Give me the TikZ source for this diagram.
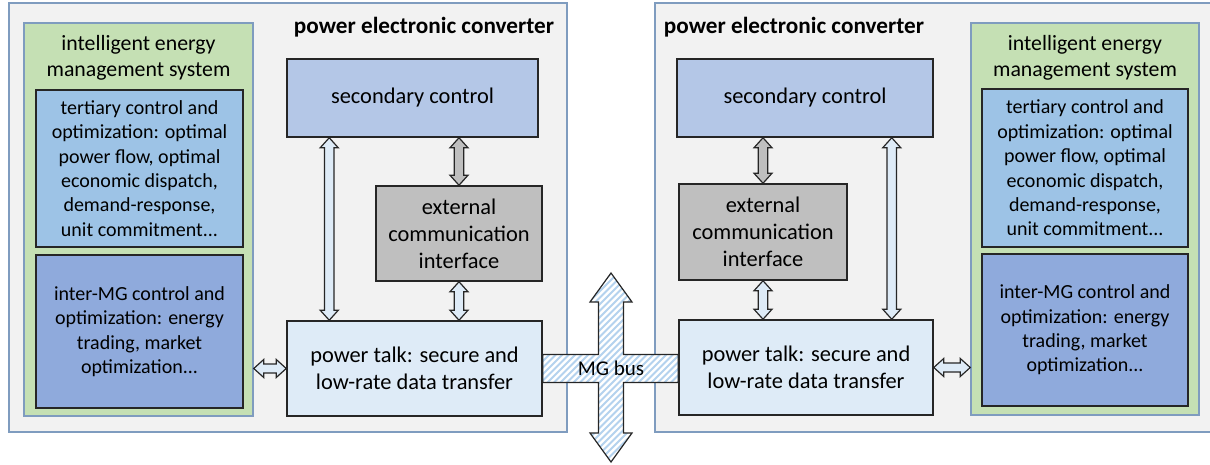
\documentclass[tikz,border=0pt]{standalone}
\usepackage{fontspec}
\setmainfont{Carlito}
\usetikzlibrary{calc}

\definecolor{panelfill}{HTML}{F2F2F2}
\definecolor{panelline}{HTML}{7F9CBF}
\definecolor{emsgreen}{HTML}{C5E0B4}
\definecolor{terfill}{HTML}{9DC3E6}
\definecolor{intfill}{HTML}{8FAADC}
\definecolor{secfill}{HTML}{B4C7E7}
\definecolor{extfill}{HTML}{BFBFBF}
\definecolor{ptfill}{HTML}{DEEBF7}
\definecolor{stripeblue}{HTML}{B4D2EE}

\tikzset{
  every node/.style={font=\fontsize{10}{12.2}\selectfont},
  sized/.style 2 args={minimum width=#1*0.5pt, minimum height=#2*0.5pt},
  panel/.style={draw=panelline, fill=panelfill, line width=0.75pt, inner sep=0pt},
  emsbox/.style={draw=panelline, fill=emsgreen, line width=0.75pt, inner sep=0pt},
  block/.style={draw=black!85, line width=0.75pt, align=center, inner sep=0pt},
  bigtext/.style={font=\fontsize{11.2}{13.5}\selectfont},
  emstext/.style={align=center, font=\fontsize{10.9}{13}\selectfont},
  title/.style={font=\fontsize{11.6}{13}\selectfont\bfseries},
  arrowline/.style={draw=black!85, line width=0.6pt, line join=miter},
  busstripe/.style={draw=stripeblue, line width=1pt},
}

% vertical double arrow: fill, upper end, lower end
\newcommand{\varrow}[3]{%
  \draw[arrowline, fill=#1] let \p1=#2, \p2=#3 in
    (\x1,\y1) -- (\x1+4.5pt,\y1-5pt) -- (\x1+2.4pt,\y1-5pt) -- (\x1+2.4pt,\y2+5pt)
    -- (\x1+4.5pt,\y2+5pt) -- (\x1,\y2) -- (\x1-4.5pt,\y2+5pt) -- (\x1-2.4pt,\y2+5pt)
    -- (\x1-2.4pt,\y1-5pt) -- (\x1-4.5pt,\y1-5pt) -- cycle;}
% horizontal double arrow: fill, left end, right end
\newcommand{\harrow}[3]{%
  \draw[arrowline, fill=#1] let \p1=#2, \p2=#3 in
    (\x1,\y1) -- (\x1+5pt,\y1+4.5pt) -- (\x1+5pt,\y1+2.25pt) -- (\x2-5pt,\y1+2.25pt)
    -- (\x2-5pt,\y1+4.5pt) -- (\x2,\y1) -- (\x2-5pt,\y1-4.5pt) -- (\x2-5pt,\y1-2.25pt)
    -- (\x1+5pt,\y1-2.25pt) -- (\x1+5pt,\y1-4.5pt) -- cycle;}
% MG bus cross
\newcommand{\busshape}{let \p1=(ptL.east), \p2=(ptR.west), \p3=(busN), \p4=(busS) in
    (\x1,\y1+7pt) -- (\x3-6.25pt,\y1+7pt) -- (\x3-6.25pt,\y3-14.5pt) -- (\x3-10.5pt,\y3-14.5pt)
    -- (\x3,\y3) -- (\x3+10.5pt,\y3-14.5pt) -- (\x3+6.25pt,\y3-14.5pt) -- (\x3+6.25pt,\y1+7pt)
    -- (\x2,\y1+7pt) -- (\x2,\y1-7pt) -- (\x3+6.25pt,\y1-7pt) -- (\x3+6.25pt,\y4+14.5pt)
    -- (\x3+10.5pt,\y4+14.5pt) -- (\x3,\y4) -- (\x3-10.5pt,\y4+14.5pt) -- (\x3-6.25pt,\y4+14.5pt)
    -- (\x3-6.25pt,\y1-7pt) -- (\x1,\y1-7pt) -- cycle}

\begin{document}
\begin{tikzpicture}[x=0.5pt,y=-0.5pt]
\useasboundingbox (0,0) rectangle (1210,465);

% left converter
\node[panel, sized={558}{429}] (panL) at (288,217.5) {};
\node[title] (pecL) at (424,27) {power electronic converter};
\node[emsbox, sized={229}{393}] (emsL) at (138.5,219.5) {};
\node[emstext] (emsLt) at (138.5,58) {intelligent energy\\management system};
\node[block, fill=terfill, sized={207}{157}] (terL) at (139.5,168.5) {tertiary control and\\optimization: optimal\\power flow, optimal\\economic dispatch,\\demand-response,\\unit commitment...};
\node[block, fill=intfill, sized={207}{153}] (intL) at (139.5,331.5) {inter-MG control and\\optimization: energy\\trading, market\\optimization...};
\node[block, fill=secfill, bigtext, sized={251}{78}] (secL) at (412.5,98) {secondary control};
\node[block, fill=extfill, bigtext, sized={166}{95}] (extL) at (459,233.5) {external\\communication\\interface};
\node[block, fill=ptfill, bigtext, sized={255}{95}] (ptL) at (414.5,368.5) {power talk: secure and\\low-rate data transfer};

% right converter
\node[panel, sized={561}{429}] (panR) at (935.5,217.5) {};
\node[title] (pecR) at (794,27) {power electronic converter};
\node[emsbox, sized={228}{392}] (emsR) at (1085,219) {};
\node[emstext] (emsRt) at (1085,58) {intelligent energy\\management system};
\node[block, fill=terfill, sized={206}{158}] (terR) at (1085,168) {tertiary control and\\optimization: optimal\\power flow, optimal\\economic dispatch,\\demand-response,\\unit commitment...};
\node[block, fill=intfill, sized={206}{152}] (intR) at (1085,330) {inter-MG control and\\optimization: energy\\trading, market\\optimization...};
\node[block, fill=secfill, bigtext, sized={256}{78}] (secR) at (805,98) {secondary control};
\node[block, fill=extfill, bigtext, sized={168}{96}] (extR) at (763,232) {external\\communication\\interface};
\node[block, fill=ptfill, bigtext, sized={254}{95}] (ptR) at (806,367.5) {power talk: secure and\\low-rate data transfer};

% arrows
\varrow{ptfill}{($(secL.south west)+(43,0)$)}{($(ptL.north west)+(43,0)$)}
\varrow{extfill}{(secL.south -| extL.north)}{(extL.north)}
\varrow{ptfill}{(extL.south)}{(ptL.north -| extL.south)}
\harrow{ptfill}{(emsL.east |- ptL.west)}{(ptL.west)}

\varrow{ptfill}{($(secR.south east)+(-42,0)$)}{($(ptR.north east)+(-42,0)$)}
\varrow{extfill}{(secR.south -| extR.north)}{(extR.north)}
\varrow{ptfill}{(extR.south)}{(ptR.north -| extR.south)}
\harrow{ptfill}{(ptR.east)}{(emsR.west |- ptR.east)}

% MG bus
\coordinate (busN) at (611,273);
\coordinate (busS) at (611,462);
\fill[white] \busshape;
\begin{scope}
  \clip \busshape;
  \foreach \i in {0,...,55} \draw[busstripe] (330+\i*6.5,470) -- ++(200,-200);
\end{scope}
\draw[arrowline, fill=none] \busshape;
\node[font=\fontsize{10.5}{12}\selectfont] (bus) at (611,368) {MG bus};
\end{tikzpicture}
\end{document}
